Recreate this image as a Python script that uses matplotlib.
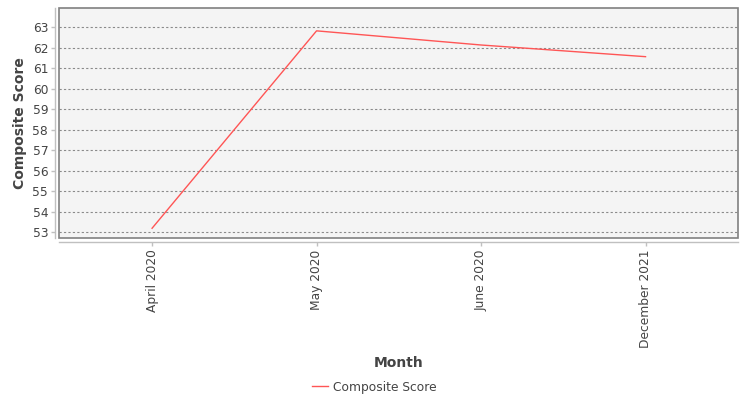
import matplotlib
matplotlib.use('Agg')
import matplotlib.pyplot as plt
from matplotlib.patches import Rectangle

# Datos
meses = ['April 2020', 'May 2020', 'June 2020', 'December 2021']
puntaje = [53.2, 62.83, 62.14, 61.57]
y_ticks = list(range(53, 64))

plt.rcParams['font.family'] = ['DejaVu Sans']
gris_texto = '#444444'

fig = plt.figure(figsize=(7.5, 4), dpi=100)
ax = fig.add_axes([59.3 / 750, 1 - 238.3 / 400, 679 / 750, 230 / 400])
ax.set_facecolor('#f4f4f4')

x = list(range(len(meses)))
linea, = ax.plot(x, puntaje, color='#ff5555', lw=1.0, label='Composite Score')

ax.set_xlim(-0.564, len(meses) - 1 + 0.564)
ax.set_ylim(52.71, 63.93)
ax.set_yticks(y_ticks)
ax.set_xticks(x)
ax.set_xticklabels(meses)

ax.grid(axis='y', color='#8a8a8a', linestyle=(0, (2, 2)), lw=0.8)
ax.set_axisbelow(True)

# borde del area de dibujo
for s in ['top', 'right']:
    ax.spines[s].set_visible(False)
for s in ['left', 'bottom']:
    ax.spines[s].set_position(('outward', 3))
    ax.spines[s].set_color('#c0c0c0')
    ax.spines[s].set_linewidth(1.0)
ax.add_patch(Rectangle((0, 0), 1, 1, transform=ax.transAxes, fill=False,
                       edgecolor='#808080', lw=1.2, clip_on=False, zorder=5))

ax.tick_params(axis='both', colors='#c0c0c0', labelcolor=gris_texto,
               labelsize=8.8, length=3, width=1, pad=2)
ax.tick_params(axis='x', labelrotation=90)

ax.set_xlabel('Month', fontsize=10, fontweight='bold', color=gris_texto, va='center')
ax.xaxis.set_label_coords(0.5, (238.3 - 363) / 230)
ax.set_ylabel('Composite Score', fontsize=10, fontweight='bold', color=gris_texto, va='center')
ax.yaxis.set_label_coords((20 - 59.3) / 679, 0.5)

leg = fig.legend(handles=[linea], loc='center', bbox_to_anchor=(0.499, 1 - 387 / 400),
                 frameon=False, fontsize=8.8, handlelength=1.3, handletextpad=0.4)
for t in leg.get_texts():
    t.set_color(gris_texto)

plt.savefig('out.png', dpi=100)
